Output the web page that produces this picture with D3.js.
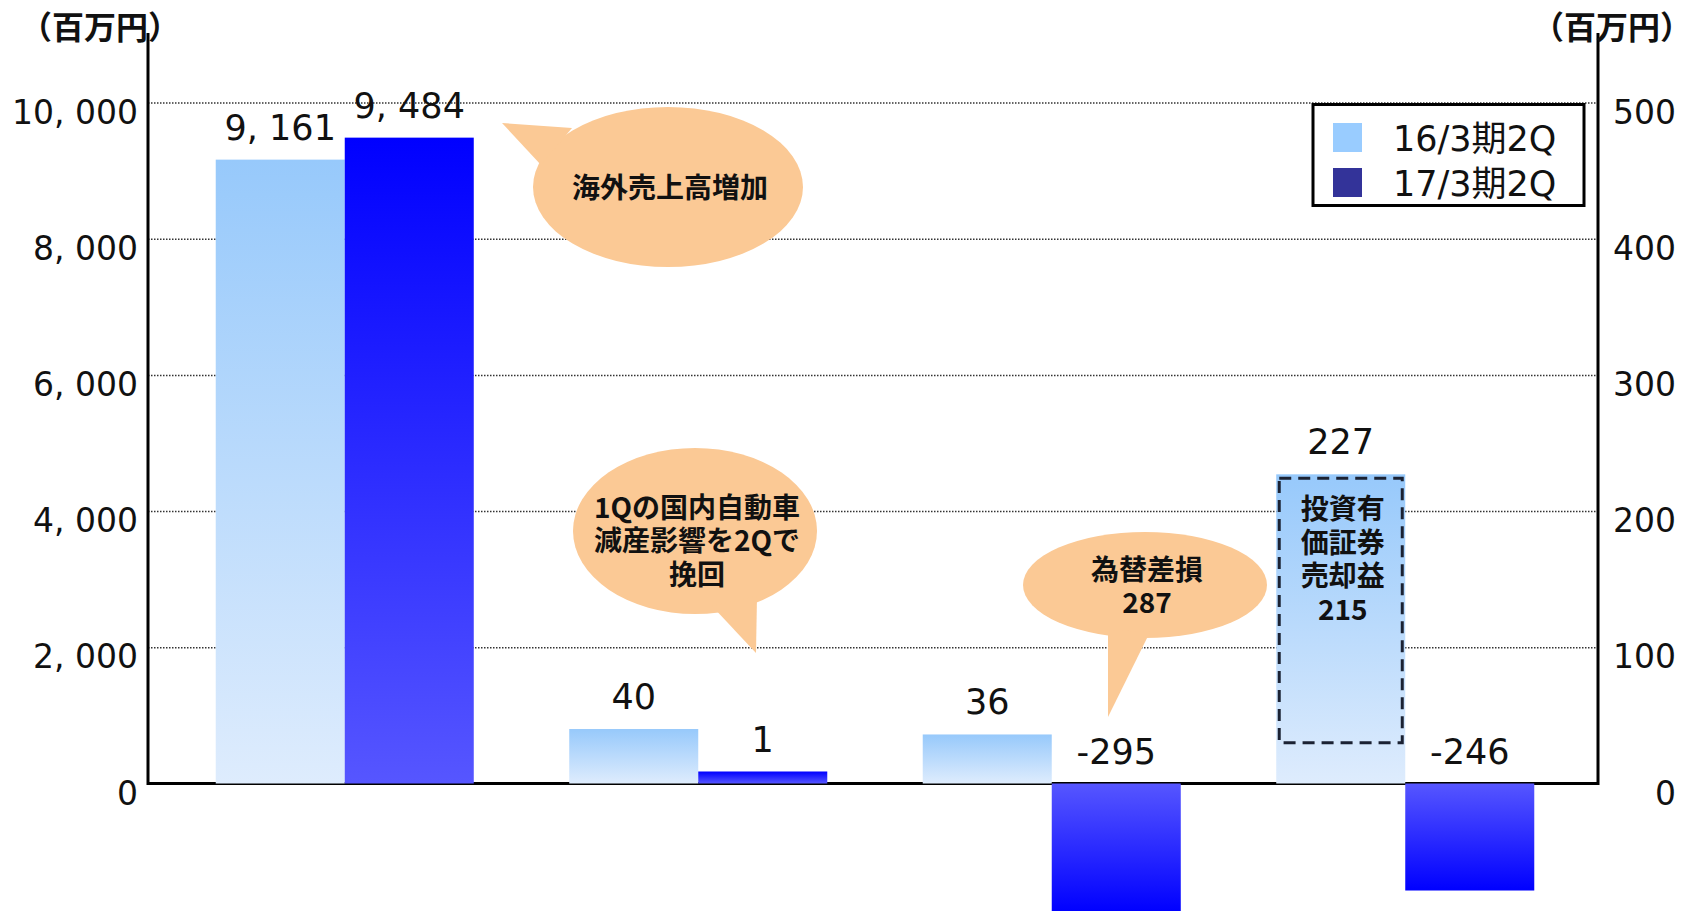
<!DOCTYPE html>
<html>
<head>
<meta charset="utf-8">
<script src="https://cdn.jsdelivr.net/npm/d3@7"></script>
<style>
  body { margin: 0; background: #fff; }
  text { font-family: "DejaVu Sans", "Noto Sans CJK JP", sans-serif; fill: #111; }
  .jp { font-family: "Noto Sans CJK JP", sans-serif; }
</style>
</head>
<body>
<div id="chart"></div>
<script>
/*********************************
      GROUPED BAR CHART (2Q)
 *********************************/

// Chart Data
let groups = ["g1", "g2", "g3", "g4"];
let seriesNames = ["16/3期2Q", "17/3期2Q"];
let values16 = [9161, 40, 36, 227];
let values17 = [9484, 1, -295, -246];
let groupAxis = ["left", "right", "right", "right"];
let leftTicks = [0, 2000, 4000, 6000, 8000, 10000];
let rightTicks = [0, 100, 200, 300, 400, 500];
let unitLabel = "（百万円）";
let note1 = ["海外売上高増加"];
let note2 = ["1Qの国内自動車", "減産影響を2Qで", "挽回"];
let note3 = ["為替差損", "287"];
let note4 = ["投資有", "価証券", "売却益", "215"];
let note4Range = [30, 227]; // dashed box extent on right axis

// Render Chart
function drawChart() {
  // Specifying Chart Dimensions
  let w = 1691, h = 911;
  let left = 148, right = 1598, top = 33, zeroY = 783.5, topY = 102.5, bottomY = 914;
  let minBarH = 12, labelGap = 20;
  let colours = ["#99ccff", "#333399"];
  let bubbleFill = "#fbc995";

  let svg = d3.select("#chart").append("svg").attr("width", w).attr("height", h);

  // Gradients
  let defs = svg.append("defs");
  let grad = (id, c0, c1) => {
    let g = defs.append("linearGradient").attr("id", id).attr("x1", 0).attr("y1", 0).attr("x2", 0).attr("y2", 1);
    g.append("stop").attr("offset", 0).attr("stop-color", c0);
    g.append("stop").attr("offset", 1).attr("stop-color", c1);
  };
  grad("lightUp", "#97c9fb", "#deecfd");
  grad("darkUp", "#0000ff", "#5656ff");
  grad("darkDown", "#5656ff", "#0000ff");

  // Scales (negative side compressed like the original)
  let yLeft = d3.scaleLinear().domain([-6000, 0, 10000]).range([bottomY, zeroY, topY]);
  let yRight = d3.scaleLinear().domain([-300, 0, 500]).range([bottomY, zeroY, topY]);
  let x0 = d3.scaleBand().domain(groups).range([168, 1582]);
  let x1 = d3.scaleBand().domain([0, 1]).range([0, x0.bandwidth()]).paddingOuter(0.37);
  let yOf = (i) => groupAxis[i] === "left" ? yLeft : yRight;

  // Gridlines
  let grid = svg.append("g").attr("transform", "translate(" + left + ",0)")
    .call(d3.axisLeft(yLeft).tickValues(leftTicks.slice(1)).tickSize(-(right - left)).tickFormat(""));
  grid.select(".domain").remove();
  grid.selectAll("line").attr("stroke", "#333").attr("stroke-width", 1.5).attr("stroke-dasharray", "1.5,1.5");

  // Tick Labels
  let fmt = (v) => Math.abs(v) >= 1000 ? d3.format(",")(v).replace(",", ", ") : String(v);
  let leftAxis = svg.append("g").attr("transform", "translate(" + left + ",0)")
    .call(d3.axisLeft(yLeft).tickValues(leftTicks).tickSize(0).tickPadding(10).tickFormat(fmt));
  let rightAxis = svg.append("g").attr("transform", "translate(" + right + ",0)")
    .call(d3.axisRight(yRight).tickValues(rightTicks).tickSize(0).tickFormat(fmt));
  [leftAxis, rightAxis].forEach(a => {
    a.select(".domain").remove();
    a.selectAll("text").attr("font-family", null).attr("font-size", 33).attr("fill", "#111").attr("y", 10);
  });
  rightAxis.selectAll("text").attr("text-anchor", "end").attr("x", 78);

  // Frame Lines
  let frame = svg.append("g").attr("stroke", "#000").attr("stroke-width", 3);
  frame.append("line").attr("x1", left).attr("x2", left).attr("y1", top).attr("y2", zeroY + 1.5);
  frame.append("line").attr("x1", right).attr("x2", right).attr("y1", top).attr("y2", zeroY + 1.5);
  frame.append("line").attr("x1", left).attr("x2", right).attr("y1", zeroY).attr("y2", zeroY);

  // Bars
  let bars = [];
  groups.forEach((g, i) => {
    bars.push({ g: g, i: i, s: 0, v: values16[i] });
    bars.push({ g: g, i: i, s: 1, v: values17[i] });
  });
  bars.forEach(d => {
    let y = yOf(d.i), y0 = y(0), yv = y(d.v);
    d.hgt = Math.max(Math.abs(yv - y0), minBarH);
    d.y = d.v >= 0 ? y0 - d.hgt : y0;
    d.x = x0(d.g) + x1(d.s);
    d.cx = d.x + x1.bandwidth() / 2;
  });
  svg.append("g").selectAll("rect").data(bars).enter().append("rect")
    .attr("x", d => d.x).attr("y", d => d.y)
    .attr("width", x1.bandwidth()).attr("height", d => d.hgt)
    .attr("fill", d => d.s === 0 ? "url(#lightUp)" : (d.v >= 0 ? "url(#darkUp)" : "url(#darkDown)"));

  // Value Labels
  svg.append("g").selectAll("text").data(bars).enter().append("text")
    .attr("x", d => d.cx).attr("y", d => (d.v >= 0 ? d.y : yOf(d.i)(0)) - labelGap)
    .attr("text-anchor", "middle").attr("font-size", 35).text(d => fmt(d.v));

  // Dashed Box In Securities Bar
  let bx = x0(groups[3]) + x1(0);
  svg.append("rect").attr("x", bx + 3).attr("width", x1.bandwidth() - 6)
    .attr("y", yRight(note4Range[1]) + 4).attr("height", yRight(note4Range[0]) - yRight(note4Range[1]) - 4)
    .attr("fill", "none").attr("stroke", "#1b2233").attr("stroke-width", 3).attr("stroke-dasharray", "12,7");
  note4.forEach((t, k) => {
    svg.append("text").attr("class", "jp").attr("font-size", 28).attr("font-weight", "bold")
      .attr("text-anchor", "middle")
      .attr("x", bx + x1.bandwidth() / 2 + 2).attr("y", yRight(note4Range[1]) + 45 + k * 33.5).text(t);
  });

  // Speech Bubbles
  let bubble = (cx, cy, rx, ry, tail, lines, ty) => {
    let b = svg.append("g");
    b.append("ellipse").attr("cx", cx).attr("cy", cy).attr("rx", rx).attr("ry", ry).attr("fill", bubbleFill);
    b.append("polygon").attr("points", tail.map(p => p.join(",")).join(" ")).attr("fill", bubbleFill);
    lines.forEach((l, k) => {
      b.append("text").attr("class", "jp").attr("font-size", 28).attr("font-weight", "bold")
        .attr("text-anchor", "middle")
        .attr("x", cx + 2).attr("y", ty + k * 33.5).attr("dy", "0.35em").text(l);
    });
  };
  bubble(668, 187, 135, 80, [[572, 128], [541, 165], [502, 123]], note1, 188);
  bubble(695, 531, 122, 83, [[712, 606], [757, 596], [756, 653]], note2, 508);
  bubble(1145, 585, 122, 53, [[1108, 630], [1150, 632], [1108, 717]], note3, 570);

  // Legend
  let legend = svg.append("g");
  legend.append("rect").attr("x", 1313).attr("y", 104.5).attr("width", 271).attr("height", 101)
    .attr("fill", "#fff").attr("stroke", "#000").attr("stroke-width", 3);
  seriesNames.forEach((name, k) => {
    legend.append("rect").attr("x", 1333).attr("y", 123 + k * 45).attr("width", 29).attr("height", 29).attr("fill", colours[k]);
    legend.append("text").attr("x", 1393).attr("y", 138 + k * 45).attr("dy", "0.36em")
      .attr("font-size", 35).text(name);
  });

  // Unit Labels
  [100, 1612].forEach(x => {
    svg.append("text").attr("class", "jp").attr("x", x).attr("y", 27).attr("dy", "0.36em")
      .attr("text-anchor", "middle").attr("font-size", 32).attr("font-weight", "bold").text(unitLabel);
  });
}

drawChart();
</script>
</body>
</html>
